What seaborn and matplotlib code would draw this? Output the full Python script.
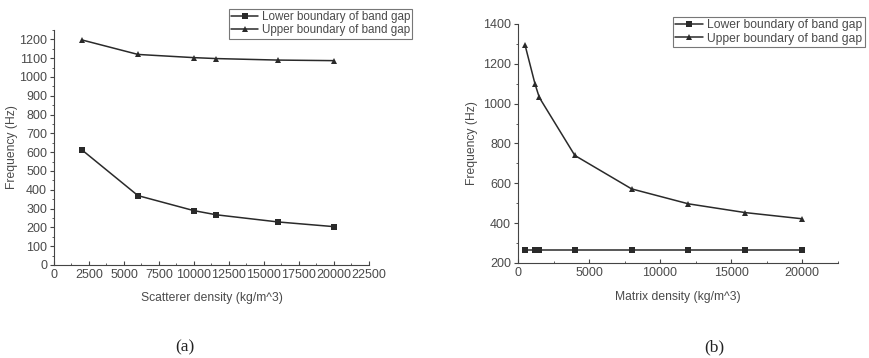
import matplotlib
matplotlib.use("Agg")
import matplotlib.pyplot as plt
from matplotlib.ticker import MultipleLocator
import pandas as pd
import seaborn as sns

# (a) scatterer density
scat_density = [2000, 6000, 10000, 11600, 16000, 20000]
scat_lower = [612, 369, 289, 267, 229, 204]
scat_upper = [1197, 1120, 1103, 1098, 1090, 1087]

# (b) matrix density
matrix_density = [500, 1200, 1500, 4000, 8000, 12000, 16000, 20000]
matrix_lower = [267, 267, 267, 267, 267, 267, 267, 267]
matrix_upper = [1293, 1098, 1031, 740, 572, 497, 453, 422]

lower_label = "Lower boundary of band gap"
upper_label = "Upper boundary of band gap"

sns.set_style("ticks")
plt.rcParams["font.family"] = ["Liberation Sans", "DejaVu Sans"]
text_col = "#4a4a4a"
line_col = "#2a2a2a"
plt.rcParams.update({
    "text.color": text_col,
    "axes.labelcolor": text_col,
    "xtick.color": "#444444",
    "ytick.color": "#444444",
    "xtick.labelcolor": text_col,
    "ytick.labelcolor": text_col,
    "axes.edgecolor": "#444444",
})

fig = plt.figure(figsize=(8.69, 3.58), dpi=100)
ax_a = fig.add_axes([0.0621, 0.2598, 0.3625, 0.6564])
ax_b = fig.add_axes([0.5961, 0.2654, 0.3677, 0.6676])

df_a = pd.DataFrame({"x": scat_density, "lower": scat_lower, "upper": scat_upper})
df_b = pd.DataFrame({"x": matrix_density, "lower": matrix_lower, "upper": matrix_upper})

for ax, df in [(ax_a, df_a), (ax_b, df_b)]:
    sns.lineplot(data=df, x="x", y="lower", ax=ax, color=line_col, lw=1.1,
                 marker="s", markersize=4.3, markeredgewidth=0, label=lower_label)
    sns.lineplot(data=df, x="x", y="upper", ax=ax, color=line_col, lw=1.1,
                 marker="^", markersize=5, markeredgewidth=0, label=upper_label)
    sns.despine(ax=ax)
    ax.tick_params(axis="y", which="both", direction="out", labelsize=9, pad=2)
    ax.tick_params(axis="x", which="both", direction="in", labelsize=9, pad=3)
    ax.tick_params(which="major", length=3, width=0.8)
    ax.tick_params(which="minor", length=1.8, width=0.6)
    ax.set_ylabel("Frequency (Hz)", fontsize=8.7)

# panel (a)
ax_a.set_xlim(0, 22500)
ax_a.set_ylim(0, 1250)
ax_a.xaxis.set_major_locator(MultipleLocator(2500))
ax_a.xaxis.set_minor_locator(MultipleLocator(1250))
ax_a.yaxis.set_major_locator(MultipleLocator(100))
ax_a.yaxis.set_minor_locator(MultipleLocator(50))
ax_a.set_xlabel("Scatterer density (kg/m^3)", fontsize=8.7)
ax_a.yaxis.set_label_coords(-0.114, 0.5)
ax_a.xaxis.set_label_coords(0.5, -0.115)

# panel (b)
ax_b.set_xlim(0, 22500)
ax_b.set_ylim(200, 1400)
ax_b.xaxis.set_major_locator(MultipleLocator(5000))
ax_b.xaxis.set_minor_locator(MultipleLocator(2500))
ax_b.yaxis.set_major_locator(MultipleLocator(200))
ax_b.yaxis.set_minor_locator(MultipleLocator(100))
ax_b.set_xlabel("Matrix density (kg/m^3)", fontsize=8.7)
ax_b.yaxis.set_label_coords(-0.125, 0.5)
ax_b.xaxis.set_label_coords(0.5, -0.117)

for ax, anchor, fs in [(ax_a, (0.2635, 0.9749), 8.4), (ax_b, (0.7745, 0.9525), 8.7)]:
    handles, labels = ax.get_legend_handles_labels()
    leg = ax.legend(handles, labels, loc="upper left", bbox_to_anchor=anchor,
                    bbox_transform=fig.transFigure, borderaxespad=0,
                    fontsize=fs, handlelength=2.3, handletextpad=0.3,
                    labelspacing=0.1, borderpad=0.2, fancybox=False,
                    framealpha=1, edgecolor="#777777")
    leg.get_frame().set_linewidth(0.8)

fig.text(185 / 869, 1 - 347 / 358, "(a)", ha="center", va="center",
         fontsize=12.5, family=["Liberation Serif", "DejaVu Serif"], color="#222222")
fig.text(714 / 869, 1 - 347 / 358, "(b)", ha="center", va="center",
         fontsize=12.5, family=["Liberation Serif", "DejaVu Serif"], color="#222222")

fig.savefig("out.png", dpi=100)
